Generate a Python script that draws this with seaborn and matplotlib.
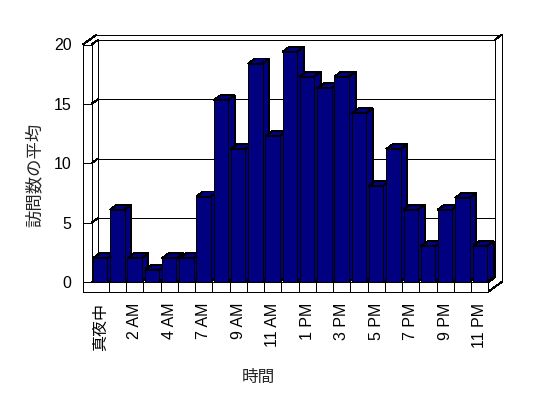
import matplotlib
matplotlib.use("Agg")
import matplotlib.pyplot as plt
from matplotlib.patches import Polygon
import numpy as np
import pandas as pd
import seaborn as sns

# ---- data ----
hours = ["真夜中", "1 AM", "2 AM", "3 AM", "4 AM", "5 AM", "7 AM", "8 AM", "9 AM",
         "10 AM", "11 AM", "12 PM", "1 PM", "2 PM", "3 PM", "4 PM", "5 PM", "6 PM",
         "7 PM", "8 PM", "9 PM", "10 PM", "11 PM"]
visits = [2.0, 6.1, 2.0, 1.0, 2.0, 2.0, 7.2, 15.3, 11.2, 18.4, 12.3, 19.4, 17.3,
          16.3, 17.3, 14.2, 8.1, 11.2, 6.1, 3.0, 6.1, 7.1, 3.0]
yticks = [0, 5, 10, 15, 20]
x_title = "時間"
y_title = "訪問数の平均"

sns.set_style("white")
plt.rcParams["font.family"] = ["Liberation Sans", "Noto Sans CJK JP", "DejaVu Sans"]

W, H = 548, 398
fig = plt.figure(figsize=(W / 100, H / 100), dpi=100)
fig.patch.set_facecolor("white")

# overlay (frame) axes in image-pixel coordinates
ov = fig.add_axes([0, 0, 1, 1], zorder=0)
ov.set_xlim(0, W)
ov.set_ylim(H, 0)
ov.axis("off")

# front plane axes
fx0, fx1, fy0, fy1 = 91.5, 488.3, 282.0, 44.5
ax = fig.add_axes([fx0 / W, (H - fy0) / H, (fx1 - fx0) / W, (fy0 - fy1) / H], zorder=1)
ax.patch.set_alpha(0)

df = pd.DataFrame({"hour": hours, "visits": visits})
sns.barplot(data=df, x="hour", y="visits", order=hours, color="#000080",
            saturation=1, width=0.83, edgecolor="black", linewidth=0.72, ax=ax)
n = len(hours)
ax.set_xlim(-0.5, n - 0.5)
ax.set_ylim(yticks[0], yticks[-1])


def to_img(x, y):
    d = ax.transData.transform((x, y))
    return d[0], H - d[1]


# depths in image pixels
DX, DY = 6.7, -4.7        # inner plot depth
TX, TY = 13.7, -10.0      # total depth incl. wall thickness
BX, BY = 6.7, -5.0        # bar depth
WALL = 8.5                # left wall thickness
SLAB = 9.7                # floor slab thickness

X0, Y0 = to_img(-0.5, yticks[0])
X1, Y1 = to_img(n - 0.5, yticks[-1])
L = X0 - WALL

lk = dict(color="black", lw=0.72, solid_capstyle="butt", antialiased=False)


def seg(p, q):
    ov.plot([p[0], q[0]], [p[1], q[1]], **lk)


# back wall inner face
seg((X0 + DX, Y1 + DY), (X1 + DX, Y1 + DY))
seg((X0 + DX, Y1 + DY), (X0 + DX, Y0 + DY))
seg((X1 + DX, Y1 + DY), (X1 + DX, Y0 + DY))
seg((X0 + DX, Y0 + DY), (X1 + DX, Y0 + DY))
# back wall outer top / right
seg((L + TX, Y1 + TY), (X1 + TX, Y1 + TY))
seg((X1 + DX, Y1 + DY), (X1 + TX, Y1 + TY))
seg((X1 + TX, Y1 + TY), (X1 + TX, Y0 + SLAB + TY))
# left wall
seg((L, Y1), (L, Y0 + SLAB))
seg((X0, Y1), (X0, Y0))
seg((L, Y1), (X0, Y1))
seg((L, Y1), (L + TX, Y1 + TY))
seg((X0, Y1), (X0 + DX, Y1 + DY))
# gridlines, ticks on left wall
for v in yticks[:-1]:
    _, yv = to_img(0, v)
    seg((L, yv), (X0, yv))
    seg((X0, yv), (X0 + DX, yv + DY))
    seg((X0 + DX, yv + DY), (X1 + DX, yv + DY))
# floor slab front face with category dividers
seg((L, Y0), (X1, Y0))
seg((L, Y0 + SLAB), (X1, Y0 + SLAB))
seg((X1, Y0), (X1, Y0 + SLAB))
for k in range(1, n):
    xk, _ = to_img(k - 0.5, 0)
    seg((xk, Y0), (xk, Y0 + SLAB))
# floor slab right side
seg((X1, Y0 + SLAB), (X1 + TX, Y0 + SLAB + TY))
seg((X1, Y0), (X1 + DX, Y0 + DY))

# 3D tops and sides of bars
bars = sorted(ax.patches, key=lambda p: p.get_x())
for i, p in enumerate(bars):
    bx, bw, bh = p.get_x(), p.get_width(), p.get_height()
    xl, yt = to_img(bx, bh)
    xr, yb = to_img(bx + bw, 0)
    top = [(xl, yt), (xr, yt), (xr + BX, yt + BY), (xl + BX, yt + BY)]
    side = [(xr, yt), (xr + BX, yt + BY), (xr + BX, yb + BY), (xr, yb)]
    for poly in (side, top):
        pg = Polygon(poly, closed=True, facecolor="#000080", edgecolor="black",
                     lw=0.72, transform=ov.transData, clip_on=False,
                     zorder=2 + i * 0.1, antialiased=False)
        ax.add_patch(pg)
    p.set_zorder(2 + i * 0.1 + 0.05)
    p.set_antialiased(False)

ax.set_xlim(-0.5, n - 0.5)
ax.set_ylim(yticks[0], yticks[-1])

for s in ax.spines.values():
    s.set_visible(False)
ax.set_yticks(yticks)
ax.set_yticklabels([str(v) for v in yticks], fontsize=11.5)
ax.set_xticks(range(0, n, 2))
ax.set_xticklabels(hours[::2], rotation=90, fontsize=11.5)
ax.tick_params(axis="y", length=0, pad=14.4, colors="black")
ax.tick_params(axis="x", length=0, pad=15.0, colors="black")
for t in ax.get_xticklabels():
    t.set_va("top")
    t.set_ha("center")

ax.set_xlabel(x_title, fontsize=12, family=["Noto Sans CJK JP", "DejaVu Sans"])
ax.set_ylabel(y_title, fontsize=12.5, family=["Noto Sans CJK JP", "DejaVu Sans"],
              va="center")
ax.xaxis.set_label_coords((258 - fx0) / (fx1 - fx0), (fy0 - 377) / (fy0 - fy1))
ax.yaxis.set_label_coords((35 - fx0) / (fx1 - fx0), (fy0 - 175) / (fy0 - fy1))
ax.xaxis.label.set_va("center")

fig.savefig("out.png", dpi=100)
